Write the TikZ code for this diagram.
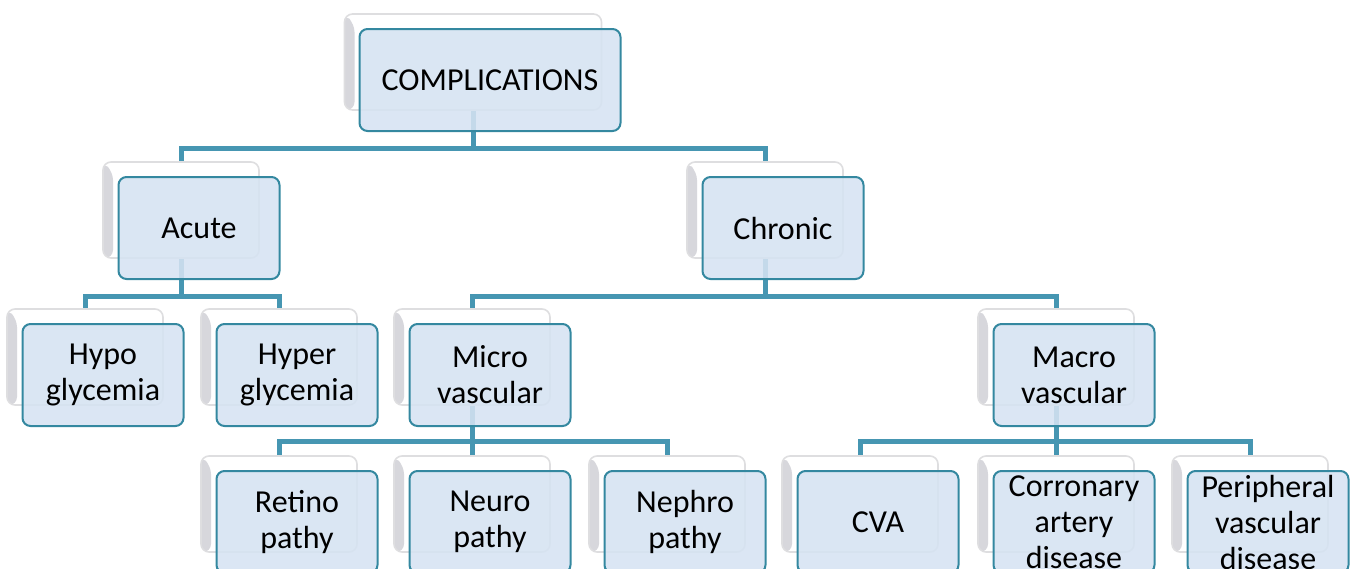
\documentclass[tikz,border=0pt]{standalone}
\usepackage{fontspec}
\setmainfont{Carlito}
\usetikzlibrary{backgrounds}

\definecolor{boxfill}{RGB}{214,227,242}
\definecolor{boxline}{RGB}{52,136,160}
\definecolor{linkcol}{RGB}{70,150,178}
\definecolor{ghostline}{RGB}{222,222,224}
\definecolor{ghostside}{RGB}{215,215,220}

\tikzset{
  box/.style={draw=boxline, line width=1pt, fill=boxfill, fill opacity=0.88, text opacity=1,
    rounded corners=4pt, minimum width=80.5pt, minimum height=51pt, inner sep=0pt,
    align=center, font=\fontsize{16}{18}\selectfont},
  ghost/.style={draw=ghostline, line width=0.8pt, fill=white, rounded corners=4pt,
    minimum width=78pt, minimum height=48pt, inner sep=0pt,
    path picture={\fill[ghostside] (path picture bounding box.north west) -- ++(5pt,-5pt)
      |- (path picture bounding box.south west) -- cycle;}},
  link/.style={draw=linkcol, line width=2.5pt}
}

\begin{document}
\begin{tikzpicture}[x=0.5pt, y=-0.5pt]
  \useasboundingbox (0,0) rectangle (1354,568);

  % top
  \node[ghost, minimum width=128.5pt] (gcomp) at (473,62) {};
  \node[box, minimum width=130.5pt] (comp) at ([shift={(17,18)}]gcomp) {COMPLICATIONS};

  % second row
  \node[ghost] (gacute) at (181,210) {};
  \node[box] (acute) at ([shift={(18,18)}]gacute) {Acute};
  \node[ghost] (gchronic) at (765,210) {};
  \node[box] (chronic) at ([shift={(18,18)}]gchronic) {Chronic};

  % third row
  \node[ghost] (ghypo) at (85,357) {};
  \node[box] (hypo) at ([shift={(18,18)}]ghypo) {Hypo\\glycemia};
  \node[ghost] (ghyper) at (279,357) {};
  \node[box] (hyper) at ([shift={(18,18)}]ghyper) {Hyper\\glycemia};
  \node[ghost] (gmicro) at (472,357) {};
  \node[box] (micro) at ([shift={(18,18)}]gmicro) {Micro\\vascular};
  \node[ghost] (gmacro) at (1056,357) {};
  \node[box] (macro) at ([shift={(18,18)}]gmacro) {Macro\\vascular};

  % bottom row
  \node[ghost] (gretino) at (279,504) {};
  \node[box] (retino) at ([shift={(18,18)}]gretino) {Retino\\pathy};
  \node[ghost] (gneuro) at (472,504) {};
  \node[box] (neuro) at ([shift={(18,18)}]gneuro) {Neuro\\pathy};
  \node[ghost] (gnephro) at (667,504) {};
  \node[box] (nephro) at ([shift={(18,18)}]gnephro) {Nephro\\pathy};
  \node[ghost] (gcva) at (860,504) {};
  \node[box] (cva) at ([shift={(18,18)}]gcva) {CVA};
  \node[ghost] (gcorr) at (1056,504) {};
  \node[box] (corr) at ([shift={(18,18)}]gcorr) {Corronary\\artery\\disease};
  \node[ghost] (gperiph) at (1250,504) {};
  \node[box] (periph) at ([shift={(18,18)}]gperiph) {Peripheral\\vascular\\disease};

  % connectors
  \coordinate (bus1) at (0,148);
  \coordinate (bus2) at (0,296);
  \coordinate (bus3) at (0,441);
  \begin{scope}[on background layer]
    \draw[link] (gcomp.south) -- (gcomp.south |- bus1);
    \draw[link] (gacute.north) |- (gchronic.north |- bus1) -- (gchronic.north);

    \draw[link] (gacute.south) -- (gacute.south |- bus2);
    \draw[link] (ghypo.north) |- (ghyper.north |- bus2) -- (ghyper.north);
    \draw[link] (gchronic.south) -- (gchronic.south |- bus2);
    \draw[link] (gmicro.north) |- (gmacro.north |- bus2) -- (gmacro.north);

    \draw[link] (gmicro.south) -- (gmicro.south |- bus3);
    \draw[link] (gretino.north) |- (gnephro.north |- bus3) -- (gnephro.north);
    \draw[link] (gneuro.north) -- (gneuro.north |- bus3);
    \draw[link] (gmacro.south) -- (gmacro.south |- bus3);
    \draw[link] (gcva.north) |- (gperiph.north |- bus3) -- (gperiph.north);
    \draw[link] (gcorr.north) -- (gcorr.north |- bus3);
  \end{scope}
\end{tikzpicture}
\end{document}
